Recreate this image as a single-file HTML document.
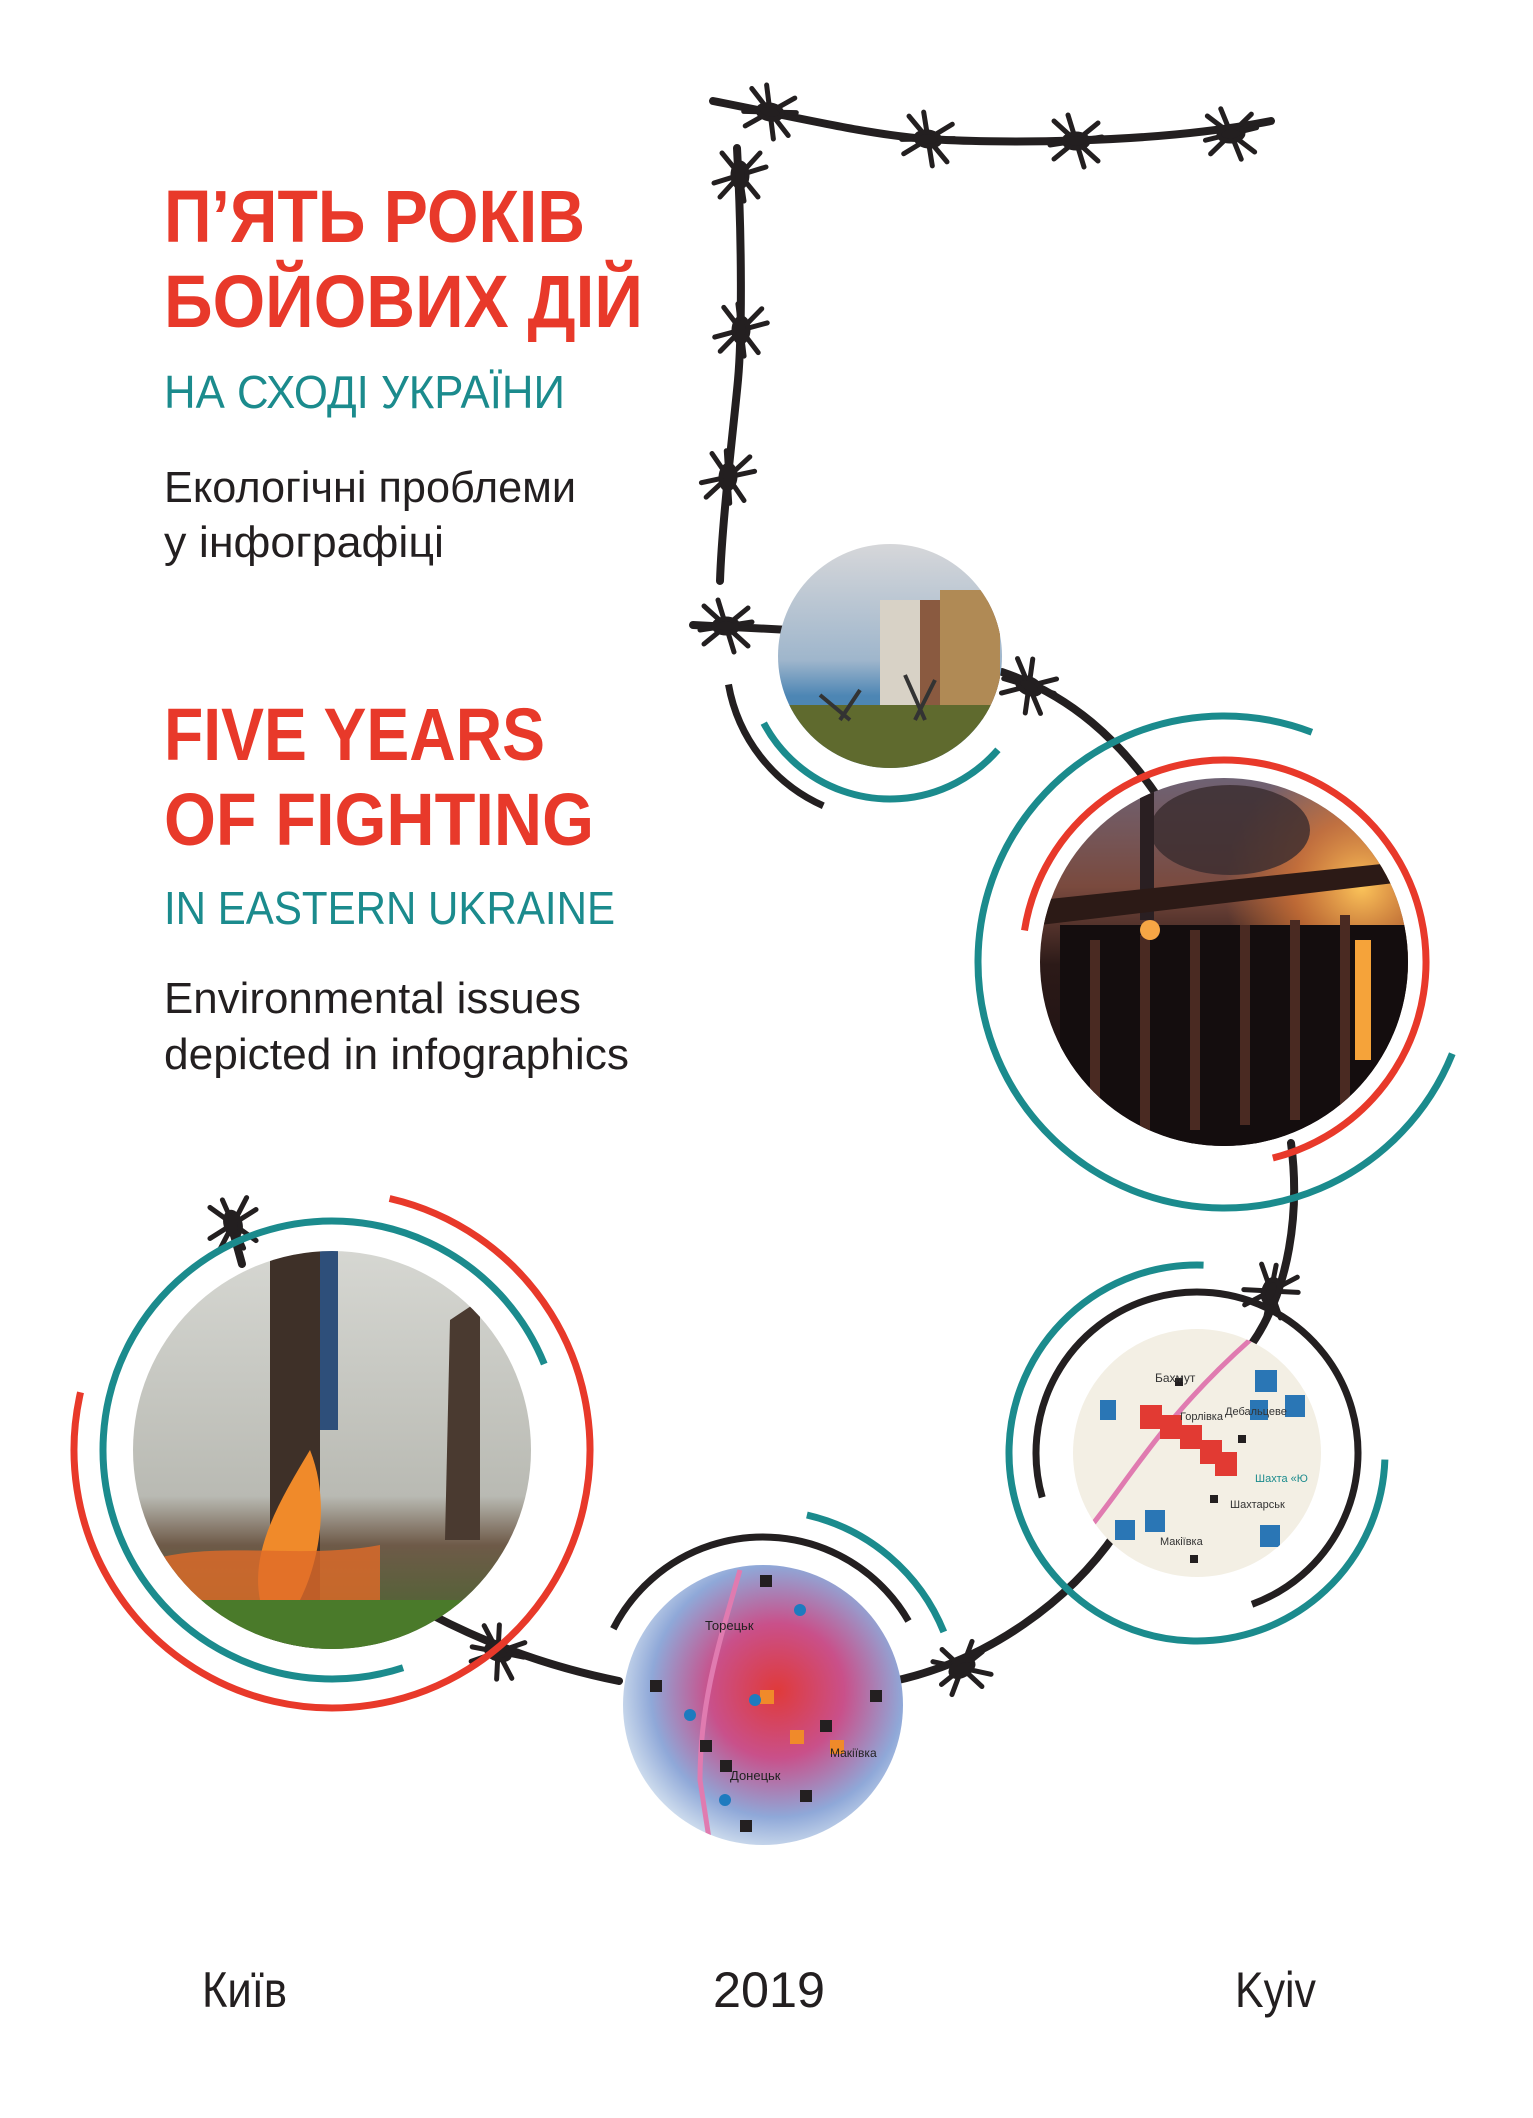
<!DOCTYPE html>
<html><head><meta charset="utf-8"><style>
html,body{margin:0;padding:0;background:#fff;}
svg{display:block;}
text{font-family:"Liberation Sans",sans-serif;}
</style></head><body>
<svg width="1533" height="2118" viewBox="0 0 1533 2118" xmlns="http://www.w3.org/2000/svg">
<defs>
<g id="barb" stroke="#231f20" stroke-width="5" stroke-linecap="round" fill="none">
<path d="M-22,-20 L22,20 M-22,18 L22,-18 M-8,-26 L8,26 M-26,4 L26,-4"/>
<ellipse cx="0" cy="0" rx="12" ry="7" fill="#231f20"/>
</g>
<clipPath id="c1"><circle cx="890" cy="656" r="112"/></clipPath>
<clipPath id="c2"><circle cx="1224" cy="962" r="184"/></clipPath>
<clipPath id="c3"><circle cx="1197" cy="1453" r="124"/></clipPath>
<clipPath id="c4"><circle cx="763" cy="1705" r="140"/></clipPath>
<clipPath id="c5"><circle cx="332" cy="1450" r="199"/></clipPath>
<linearGradient id="sky" x1="0" y1="0" x2="0" y2="1"><stop offset="0" stop-color="#d8d8da"/><stop offset="0.5" stop-color="#9fb6cc"/><stop offset="0.65" stop-color="#4d86b4"/><stop offset="1" stop-color="#4d86b4"/></linearGradient>
<linearGradient id="fire" x1="0" y1="0" x2="0" y2="1"><stop offset="0" stop-color="#6e6478"/><stop offset="0.3" stop-color="#7a4a3e"/><stop offset="0.5" stop-color="#2c1a18"/><stop offset="1" stop-color="#120b0d"/></linearGradient>
<radialGradient id="glow" cx="0.85" cy="0.3" r="0.35"><stop offset="0" stop-color="#fbc45a"/><stop offset="0.5" stop-color="#e07a35" stop-opacity="0.7"/><stop offset="1" stop-color="#e07a35" stop-opacity="0"/></radialGradient>
<linearGradient id="smoke" x1="0" y1="0" x2="0" y2="1"><stop offset="0" stop-color="#d6d7d2"/><stop offset="0.6" stop-color="#b9bab3"/><stop offset="0.72" stop-color="#6e5a48"/><stop offset="1" stop-color="#3f6a2a"/></linearGradient>
<radialGradient id="heat" cx="0.55" cy="0.45" r="0.6"><stop offset="0" stop-color="#e03a3a"/><stop offset="0.4" stop-color="#c9508a"/><stop offset="0.75" stop-color="#8fa8d8"/><stop offset="1" stop-color="#dce8f2"/></radialGradient>
</defs>

<g font-weight="bold" fill="#e8392a" font-size="74">
<text x="164" y="242" textLength="421" lengthAdjust="spacingAndGlyphs">П’ЯТЬ РОКІВ</text>
<text x="164" y="327" textLength="479" lengthAdjust="spacingAndGlyphs">БОЙОВИХ ДІЙ</text>
<text x="164" y="760" textLength="381" lengthAdjust="spacingAndGlyphs">FIVE YEARS</text>
<text x="164" y="845" textLength="430" lengthAdjust="spacingAndGlyphs">OF FIGHTING</text>
</g>
<g fill="#1b8b8d" font-size="46">
<text x="164" y="408" textLength="401" lengthAdjust="spacingAndGlyphs">НА СХОДІ УКРАЇНИ</text>
<text x="164" y="924" textLength="451" lengthAdjust="spacingAndGlyphs">IN EASTERN UKRAINE</text>
</g>
<g fill="#231f20" font-size="44">
<text x="164" y="502" textLength="412" lengthAdjust="spacingAndGlyphs">Екологічні проблеми</text>
<text x="164" y="557" textLength="280" lengthAdjust="spacingAndGlyphs">у інфографіці</text>
<text x="164" y="1013" textLength="417" lengthAdjust="spacingAndGlyphs">Environmental issues</text>
<text x="164" y="1069" textLength="465" lengthAdjust="spacingAndGlyphs">depicted in infographics</text>
</g>
<g fill="#231f20" font-size="50">
<text x="202" y="2007" textLength="85" lengthAdjust="spacingAndGlyphs">Київ</text>
<text x="713" y="2007" textLength="112" lengthAdjust="spacingAndGlyphs">2019</text>
<text x="1235" y="2007" textLength="81" lengthAdjust="spacingAndGlyphs">Kyiv</text>
</g>

<g stroke="#231f20" stroke-width="8" fill="none" stroke-linecap="round">
<path d="M713,101 C800,118 870,135 928,139 S1150,145 1271,121"/>
<path d="M737,148 C742,240 742,336 738,380 S722,520 720,581"/>
<path d="M693,625 L790,630"/>
<path d="M1002,672 C1070,695 1120,740 1160,800"/>
<path d="M1291,1143 C1300,1210 1290,1290 1251,1345"/>
<path d="M1116,1533 C1070,1600 990,1660 894,1681"/>
<path d="M619,1681 C540,1665 480,1640 430,1614"/>
<path d="M229,1217 L242,1264"/>
</g>
<g>
<use href="#barb" transform="translate(770,112) rotate(10)"/>
<use href="#barb" transform="translate(928,139) rotate(8)"/>
<use href="#barb" transform="translate(1076,141)"/>
<use href="#barb" transform="translate(1231,134) rotate(-5)"/>
<use href="#barb" transform="translate(740,175) rotate(90)"/>
<use href="#barb" transform="translate(741,330) rotate(92)"/>
<use href="#barb" transform="translate(728,477) rotate(95)"/>
<use href="#barb" transform="translate(726,626)"/>
<use href="#barb" transform="translate(1029,686) rotate(25)"/>
<use href="#barb" transform="translate(1271,1291) rotate(110)"/>
<use href="#barb" transform="translate(962,1668) rotate(-30)"/>
<use href="#barb" transform="translate(498,1652) rotate(20)"/>
<use href="#barb" transform="translate(233,1224) rotate(75)"/>
</g>

<g clip-path="url(#c1)">
<rect x="770" y="540" width="240" height="240" fill="url(#sky)"/>
<rect x="880" y="600" width="120" height="120" fill="#8a5a40"/>
<rect x="880" y="600" width="40" height="120" fill="#d8d2c6"/>
<rect x="940" y="590" width="60" height="130" fill="#b08a55"/>
<rect x="770" y="705" width="240" height="80" fill="#5f6a2e"/>
<path d="M820,695 L850,720 M860,690 L840,720 M905,675 L925,720 M935,680 L915,720" stroke="#333" stroke-width="4"/>
</g>
<g clip-path="url(#c2)">
<rect x="1030" y="770" width="390" height="390" fill="url(#fire)"/>
<rect x="1030" y="770" width="390" height="390" fill="url(#glow)"/>
<ellipse cx="1230" cy="830" rx="80" ry="45" fill="#3a2c2e" opacity="0.8"/>
<rect x="1140" y="790" width="14" height="130" fill="#2a1f22"/>
<path d="M1040,900 L1420,860 L1420,880 L1040,925 Z" fill="#2c1a16"/>
<rect x="1060" y="925" width="360" height="230" fill="#140d0e"/>
<g fill="#4a2a22"><rect x="1090" y="940" width="10" height="200"/><rect x="1140" y="935" width="10" height="200"/><rect x="1190" y="930" width="10" height="200"/><rect x="1240" y="925" width="10" height="200"/><rect x="1290" y="920" width="10" height="200"/><rect x="1340" y="915" width="10" height="200"/></g>
<rect x="1355" y="940" width="16" height="120" fill="#f5a33a"/>
<circle cx="1150" cy="930" r="10" fill="#f7a645"/>
</g>
<g clip-path="url(#c3)">
<rect x="1070" y="1325" width="260" height="260" fill="#f3efe4"/>
<path d="M1080,1540 C1130,1480 1160,1420 1250,1340" stroke="#e07bb0" stroke-width="5" fill="none"/>
<g fill="#e23a33"><rect x="1140" y="1405" width="22" height="24"/><rect x="1160" y="1415" width="22" height="24"/><rect x="1180" y="1425" width="22" height="24"/><rect x="1200" y="1440" width="22" height="24"/><rect x="1215" y="1452" width="22" height="24"/></g>
<g fill="#2a76b5"><rect x="1255" y="1370" width="22" height="22"/><rect x="1285" y="1395" width="20" height="22"/><rect x="1250" y="1400" width="18" height="20"/><rect x="1115" y="1520" width="20" height="20"/><rect x="1145" y="1510" width="20" height="22"/><rect x="1260" y="1525" width="20" height="22"/><rect x="1100" y="1400" width="16" height="20"/></g>
<g fill="#231f20"><rect x="1175" y="1378" width="8" height="8"/><rect x="1238" y="1435" width="8" height="8"/><rect x="1210" y="1495" width="8" height="8"/><rect x="1190" y="1555" width="8" height="8"/></g>
<text x="1155" y="1382" font-size="12" fill="#333">Бахмут</text>
<text x="1180" y="1420" font-size="11" fill="#333">Горлівка</text>
<text x="1225" y="1415" font-size="11" fill="#333">Дебальцеве</text>
<text x="1255" y="1482" font-size="11" fill="#1b8b8d">Шахта «Ю</text>
<text x="1230" y="1508" font-size="11" fill="#333">Шахтарськ</text>
<text x="1160" y="1545" font-size="11" fill="#333">Макіївка</text>
</g>
<g clip-path="url(#c4)">
<rect x="623" y="1565" width="280" height="280" fill="url(#heat)"/>
<path d="M740,1570 C720,1640 700,1700 700,1780 L710,1845" stroke="#e07bb0" stroke-width="5" fill="none"/>
<g fill="#231f20"><rect x="760" y="1575" width="12" height="12"/><rect x="650" y="1680" width="12" height="12"/><rect x="700" y="1740" width="12" height="12"/><rect x="720" y="1760" width="12" height="12"/><rect x="820" y="1720" width="12" height="12"/><rect x="870" y="1690" width="12" height="12"/><rect x="800" y="1790" width="12" height="12"/><rect x="740" y="1820" width="12" height="12"/></g>
<g fill="#f08a2a"><rect x="760" y="1690" width="14" height="14"/><rect x="790" y="1730" width="14" height="14"/><rect x="830" y="1740" width="14" height="14"/></g>
<g fill="#1e7bbf"><circle cx="690" cy="1715" r="6"/><circle cx="800" cy="1610" r="6"/><circle cx="755" cy="1700" r="6"/><circle cx="725" cy="1800" r="6"/></g>
<text x="705" y="1630" font-size="13" fill="#222">Торецьк</text>
<text x="730" y="1780" font-size="13" fill="#222">Донецьк</text>
<text x="830" y="1757" font-size="12" fill="#222">Макіївка</text>
</g>
<g clip-path="url(#c5)">
<rect x="130" y="1250" width="410" height="410" fill="url(#smoke)"/>
<rect x="270" y="1250" width="50" height="400" fill="#3e3028"/>
<rect x="320" y="1250" width="18" height="180" fill="#2e4f7a"/>
<path d="M450,1320 L480,1300 L480,1540 L445,1540 Z" fill="#4a3a30"/>
<path d="M310,1450 C330,1500 320,1560 300,1600 L260,1600 C250,1550 280,1500 310,1450 Z" fill="#f08a2a"/>
<path d="M150,1560 C220,1540 300,1560 380,1545 L380,1600 L150,1600 Z" fill="#e06a28" opacity="0.8"/>
<rect x="130" y="1600" width="410" height="60" fill="#4a7a2a"/>
</g>

<g fill="none" stroke-width="7">
<circle cx="890" cy="656" r="164" pathLength="360" stroke="#231f20" stroke-dasharray="56 304" transform="rotate(114 890 656)"/>
<circle cx="890" cy="656" r="143" pathLength="360" stroke="#1b8b8d" stroke-dasharray="111 249" transform="rotate(41 890 656)"/>
<circle cx="1224" cy="962" r="246" pathLength="360" stroke="#1b8b8d" stroke-dasharray="269 91" transform="rotate(22 1224 962)"/>
<circle cx="1224" cy="962" r="202" pathLength="360" stroke="#e8392a" stroke-dasharray="247 113" transform="rotate(189 1224 962)"/>
<circle cx="1197" cy="1453" r="161" pathLength="360" stroke="#231f20" stroke-dasharray="266 94" transform="rotate(164 1197 1453)"/>
<circle cx="1197" cy="1453" r="188" pathLength="360" stroke="#1b8b8d" stroke-dasharray="270 90" transform="rotate(2 1197 1453)"/>
<circle cx="763" cy="1705" r="168" pathLength="360" stroke="#231f20" stroke-dasharray="123 237" transform="rotate(207 763 1705)"/>
<circle cx="763" cy="1705" r="195" pathLength="360" stroke="#1b8b8d" stroke-dasharray="55 305" transform="rotate(283 763 1705)"/>
<circle cx="332" cy="1450" r="229" pathLength="360" stroke="#1b8b8d" stroke-dasharray="266 94" transform="rotate(72 332 1450)"/>
<circle cx="332" cy="1450" r="258" pathLength="360" stroke="#e8392a" stroke-dasharray="270 90" transform="rotate(283 332 1450)"/>
</g>
</svg>
</body></html>
